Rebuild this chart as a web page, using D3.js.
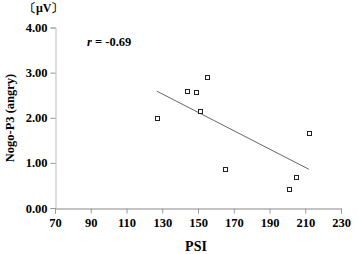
<!DOCTYPE html>
<html>
<head>
<meta charset="utf-8">
<script src="https://cdn.jsdelivr.net/npm/d3@7"></script>
<style>
  body { margin: 0; background: #fff; }
  text { font-family: "Liberation Serif", "Times New Roman", serif; fill: #000; }
</style>
</head>
<body>
<svg id="chart" width="358" height="254"></svg>
<script>
// PSI scores and Nogo-P3 amplitude (angry faces)
var psi = [127, 144, 149, 155, 151, 165, 205, 201, 212];
var nogoP3 = [2.00, 2.60, 2.57, 2.90, 2.14, 0.87, 0.69, 0.42, 1.66];
var xTicks = [70, 90, 110, 130, 150, 170, 190, 210, 230];
var yTicks = [0, 1, 2, 3, 4];
var rLabel = "-0.69";

var svg = d3.select("#chart");

var x = d3.scaleLinear().domain([70, 230]).range([55, 341]);
var y = d3.scaleLinear().domain([0, 4]).range([208, 27.5]);

// y axis
var yAxis = svg.append("g")
    .attr("transform", "translate(55.5,0)")
    .call(d3.axisLeft(y).tickValues(yTicks).tickSize(5).tickPadding(3)
        .tickFormat(d3.format(".2f")));
yAxis.select(".domain").attr("stroke", "#bbb");
yAxis.selectAll(".tick line").attr("stroke", "#999");
yAxis.selectAll(".tick text")
    .style("font-size", "12.5px").style("font-weight", "bold").attr("fill", "#000");

// x axis
var xAxis = svg.append("g")
    .attr("transform", "translate(0,208.5)")
    .call(d3.axisBottom(x).tickValues(xTicks).tickSize(5).tickPadding(5));
xAxis.select(".domain").attr("stroke", "#888");
xAxis.selectAll(".tick line").attr("stroke", "#999");
xAxis.selectAll(".tick text")
    .style("font-size", "12.5px").style("font-weight", "bold").attr("fill", "#000");

// regression line computed from the points
var mx = d3.mean(psi), my = d3.mean(nogoP3);
var sxy = d3.sum(psi, function (d, i) { return (d - mx) * (nogoP3[i] - my); });
var sxx = d3.sum(psi, function (d) { return (d - mx) * (d - mx); });
var slope = sxy / sxx, icpt = my - slope * mx;
var xr = d3.extent(psi);

svg.append("line")
    .attr("x1", x(xr[0])).attr("y1", y(icpt + slope * xr[0]))
    .attr("x2", x(xr[1])).attr("y2", y(icpt + slope * xr[1]))
    .attr("stroke", "#666").attr("stroke-width", 1);

// points
svg.append("g").selectAll("rect")
    .data(psi)
    .enter().append("rect")
    .attr("x", function (d) { return Math.round(x(d)) - 1.5; })
    .attr("y", function (d, i) { return Math.round(y(nogoP3[i])) - 1.5; })
    .attr("width", 4).attr("height", 4)
    .attr("fill", "#fff").attr("stroke", "#222").attr("stroke-width", 1);

// unit label
svg.append("text")
    .attr("x", 24).attr("y", 12)
    .style("font-size", "12px").style("font-weight", "bold")
    .text("\u3014\u03bcV\u3015");

// correlation label
var rt = svg.append("text")
    .attr("x", 87).attr("y", 46)
    .style("font-size", "12.5px").style("font-weight", "bold");
rt.append("tspan").style("font-style", "italic").text("r");
rt.append("tspan").text(" = " + rLabel);

// axis titles
svg.append("text")
    .attr("transform", "translate(14,118) rotate(-90)")
    .attr("text-anchor", "middle")
    .style("font-size", "12.5px").style("font-weight", "bold")
    .text("Nogo-P3 (angry)");

svg.append("text")
    .attr("x", 196).attr("y", 251)
    .attr("text-anchor", "middle")
    .style("font-size", "14px").style("font-weight", "bold")
    .text("PSI");
</script>
</body>
</html>
